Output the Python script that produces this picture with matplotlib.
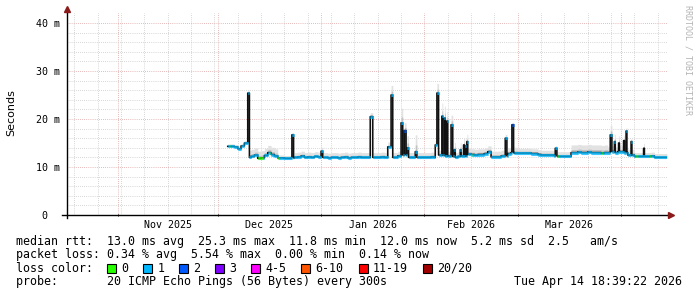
import numpy as np
import pandas as pd
import matplotlib
matplotlib.use("Agg")
import matplotlib.pyplot as plt
import matplotlib.dates as mdates
from matplotlib.patches import Rectangle

# median rtt per day in ms, starting 2025-12-04
first_day = "2025-12-04"
med_dec = [14.3, 14.3, 14.2, 13.8, 14.4, 15.0, 12.0, 12.2, 12.5, 11.8, 11.9, 12.4, 13.0, 12.6,
           12.3, 11.9, 11.9, 11.8, 11.8, 11.9, 12.0, 12.1, 12.3, 12.0, 12.1, 12.0, 12.2, 12.1]
med_jan = [12.0, 12.0, 11.9, 12.0, 12.0, 11.9, 12.0, 12.1, 11.9, 12.0, 12.0, 12.1, 12.0, 12.0,
           12.0, 12.0, 12.0, 12.0, 12.1, 12.0, 14.2, 12.0, 12.0, 12.3, 12.5, 12.5, 12.0, 12.0,
           12.0, 12.0, 12.0]
med_feb = [12.0, 12.0, 12.1, 12.0, 12.5, 12.5, 12.3, 12.3, 12.2, 12.0, 12.2, 12.3, 12.3, 12.7,
           12.6, 12.5, 12.6, 12.6, 12.8, 13.2, 12.1, 12.1, 12.1, 12.3, 12.3, 12.8, 13.0, 12.9]
med_mar = [12.9, 12.9, 12.9, 12.9, 12.8, 12.8, 12.6, 12.5, 12.5, 12.5, 12.5, 12.3, 12.2, 12.2,
           12.2, 12.2, 13.0, 13.0, 13.1, 13.0, 13.0, 13.1, 13.0, 13.0, 13.0, 12.9, 13.0, 13.0,
           13.2, 13.0, 13.2]
med_apr = [13.2, 13.0, 12.5, 12.5, 12.2, 12.2, 12.2, 12.2, 12.2, 12.3, 12.0, 12.0, 12.0, 12.0]
last_time = "2026-04-14 18:39"

# short excursions of the median (start, hours, ms, smoke above in ms)
spike_start = ["2025-12-10 00:00", "2025-12-23 06:00", "2026-01-01 00:00", "2026-01-15 18:00",
               "2026-01-22 00:00", "2026-01-25 00:00", "2026-01-26 00:00", "2026-01-26 18:00",
               "2026-01-29 06:00", "2026-02-04 06:00", "2026-02-04 18:00", "2026-02-06 06:00",
               "2026-02-07 00:00", "2026-02-07 18:00", "2026-02-09 00:00", "2026-02-10 00:00",
               "2026-02-11 18:00", "2026-02-12 18:00", "2026-02-13 06:00", "2026-02-13 18:00",
               "2026-02-25 06:00", "2026-02-27 06:00", "2026-03-12 06:00", "2026-03-28 18:00",
               "2026-03-30 00:00", "2026-03-31 06:00", "2026-04-01 18:00", "2026-04-02 12:00",
               "2026-04-04 00:00", "2026-04-07 18:00"]
spike_hours = [12, 12, 12, 18, 12, 12, 12, 12, 12, 12, 12, 6, 6, 6, 12, 6, 6, 6, 6, 6,
               12, 12, 12, 12, 6, 6, 6, 6, 6, 6]
spike_ms = [25.4, 16.7, 13.3, 20.5, 25.0, 19.2, 17.6, 14.0, 13.2, 14.6, 25.4, 20.6, 20.2, 19.6,
            18.8, 13.6, 13.6, 14.6, 14.4, 15.3, 16.0, 18.8, 13.9, 16.7, 15.3, 15.0, 15.5, 17.5,
            15.3, 13.9]
spike_smoke = [0.6, 0.5, 0.8, 0.8, 2.0, 3.0, 1.6, 2.5, 3.5, 1.0, 2.0, 2.7, 2.5, 2.0, 2.0, 1.5,
               1.5, 1.5, 1.5, 1.5, 0.8, 0.5, 0.5, 2.0, 1.5, 1.5, 1.0, 0.7, 0.7, 1.0]

# smoke spread above the median, by period
smoke_from = ["2025-12-04", "2025-12-10", "2025-12-19", "2025-12-24", "2026-01-16",
              "2026-02-14", "2026-03-01", "2026-03-17", "2026-03-28", "2026-04-05"]
smoke_spread = [0.5, 1.5, 0.6, 1.0, 1.0, 1.2, 1.0, 1.6, 1.2, 0.8]

# loss colour periods that differ from the usual "1" (start, hours, loss level index)
loss_start = ["2025-12-04 06:00", "2025-12-13 00:00", "2025-12-16 06:00", "2025-12-19 00:00",
              "2026-01-09 06:00", "2026-02-15 00:00", "2026-03-13 00:00", "2026-03-26 06:00",
              "2026-04-05 12:00", "2026-04-09 18:00", "2026-01-26 00:00", "2026-02-27 06:00"]
loss_hours = [12, 36, 12, 6, 6, 6, 6, 6, 12, 6, 12, 12]
loss_level = [0, 0, 0, 0, 0, 0, 0, 0, 0, 0, 2, 2]

loss_labels = ["0", "1", "2", "3", "4-5", "6-10", "11-19", "20/20"]
loss_colors = ["#26ff00", "#00b8ff", "#0059ff", "#7e00ff", "#ff00ff", "#ff5500", "#ff0000", "#a10000"]

y_ticks = [0, 10, 20, 30, 40]
y_labels = ["0  ", "10 m", "20 m", "30 m", "40 m"]
month_starts = ["2025-10-01", "2025-11-01", "2025-12-01", "2026-01-01", "2026-02-01",
                "2026-03-01", "2026-04-01", "2026-05-01"]

# ---- build 6 hour series
t0 = pd.Timestamp(first_day)
slots = pd.date_range(t0, "2026-04-14 18:00", freq="6h")
daily = np.array(med_dec + med_jan + med_feb + med_mar + med_apr)
med = daily[(slots - t0).days].astype(float)
idx = np.searchsorted(pd.to_datetime(smoke_from), slots, side="right") - 1
smoke = np.array(smoke_spread)[idx]
for s, h, v, sm in zip(spike_start, spike_hours, spike_ms, spike_smoke):
    a = pd.Timestamp(s)
    m = (slots >= a) & (slots < a + pd.Timedelta(hours=h))
    med[m] = v
    smoke[m] = sm
level = np.ones(len(slots), dtype=int)
for s, h, lv in zip(loss_start, loss_hours, loss_level):
    a = pd.Timestamp(s)
    level[(slots >= a) & (slots < a + pd.Timedelta(hours=h))] = lv

edges = mdates.date2num(list(slots) + [pd.Timestamp(last_time)])
med_e = np.append(med, med[-1])
smoke_e = np.append(smoke, smoke[-1])

# ---- figure
W, H = 697, 297
plt.rcParams['font.family'] = ['DejaVu Sans Mono']
fig = plt.figure(figsize=(W / 100, H / 100), dpi=100)
ax = fig.add_axes([67 / W, (H - 215) / H, 600 / W, 201.6 / H])

t_start = pd.Timestamp(last_time) - pd.Timedelta(days=180)
ms_starts = pd.to_datetime(month_starts)
ax.set_xticks(mdates.date2num(ms_starts))
ax.set_xticks(mdates.date2num(pd.date_range("2025-10-19", "2026-04-12", freq="7D")), minor=True)
ax.set_yticks(y_ticks)
ax.set_yticks(np.arange(0, 42, 2), minor=True)
ax.set_xlim(mdates.date2num(t_start), edges[-1])
ax.set_ylim(0, 42)
ax.set_xticklabels([])
ax.set_yticklabels(y_labels, fontsize=7.2)
ax.tick_params(axis='y', which='both', length=0, pad=5)
ax.tick_params(axis='x', which='major', length=2, direction='inout', width=0.7)
ax.tick_params(axis='x', which='minor', length=0)
dots = (0, (0.72, 1.44))
ax.grid(which='minor', color='#c8c8c8', linestyle=dots, linewidth=0.7)
ax.grid(which='major', color='#e0a0a0', linestyle=dots, linewidth=0.7)
ax.set_axisbelow(True)
for sp in ax.spines.values():
    sp.set_visible(False)

# smoke
ax.fill_between(edges, med_e - 0.2, med_e + smoke_e, step='post', color='#e2e2e2', lw=0, zorder=2)
ax.fill_between(edges, med_e, med_e + 0.4 * smoke_e, step='post', color='#c2c2c2', lw=0, zorder=2)
# median: black connectors and loss coloured segments
ax.step(edges, med_e, where='post', color='#111111', lw=1.15, zorder=3)
ax.hlines(med, edges[:-1], edges[1:], colors=[loss_colors[c] for c in level],
          linewidth=2.2, capstyle='butt', zorder=4)

# axes lines with arrows
ax.plot([0, 0], [-0.015, 1.015], color='black', lw=1, transform=ax.transAxes, clip_on=False, zorder=5)
ax.plot([-0.008, 1.005], [0, 0], color='black', lw=1, transform=ax.transAxes, clip_on=False, zorder=5)
ax.plot([0], [1.02], marker='^', ms=4.5, color='#8b1a1a', transform=ax.transAxes, clip_on=False, zorder=6)
ax.plot([1.007], [0], marker='>', ms=4.5, color='#8b1a1a', transform=ax.transAxes, clip_on=False, zorder=6)

# month labels centred on each month
xt = ax.get_xaxis_transform()
for a, b in zip(ms_starts[:-1], ms_starts[1:]):
    mid = a + (b - a) / 2
    xm = mdates.date2num(mid)
    if mdates.date2num(t_start) + 10 < xm < edges[-1] - 10:
        ax.text(xm, -0.05, mid.strftime("%b %Y"), transform=xt, ha='center', va='center', fontsize=7.2)

fig.text(11 / W, 1 - 113 / H, "Seconds", rotation=90, ha='center', va='center',
         fontsize=8, family='DejaVu Sans')
fig.text(688 / W, 1 - 5 / H, "RRDTOOL / TOBI OETIKER", rotation=270, ha='center', va='top',
         fontsize=6, color='#b4b4b4')

# legend rows
fs = 8.4
cw = 0.6021 * fs * 100 / 72
x0 = 16
rows_y = [241, 254.7, 268.3, 282]
fig.text(x0 / W, 1 - rows_y[0] / H,
         "median rtt:  13.0 ms avg  25.3 ms max  11.8 ms min  12.0 ms now  5.2 ms sd  2.5   am/s",
         fontsize=fs, va='center')
fig.text(x0 / W, 1 - rows_y[1] / H,
         "packet loss: 0.34 % avg  5.54 % max  0.00 % min  0.14 % now", fontsize=fs, va='center')
fig.text(x0 / W, 1 - rows_y[2] / H, "loss color:", fontsize=fs, va='center')
bx = x0 + 13 * cw
for lab, col in zip(loss_labels, loss_colors):
    fig.patches.append(Rectangle((bx / W, 1 - (rows_y[2] + 4.5) / H), 9 / W, 9 / H,
                                 transform=fig.transFigure, facecolor=col, edgecolor='black', lw=0.8))
    fig.text((bx + 14) / W, 1 - rows_y[2] / H, lab, fontsize=fs, va='center')
    bx = bx + 14 + len(lab) * cw + 15
fig.text(x0 / W, 1 - rows_y[3] / H, "probe:       20 ICMP Echo Pings (56 Bytes) every 300s",
         fontsize=fs, va='center')
fig.text(682 / W, 1 - rows_y[3] / H, "Tue Apr 14 18:39:22 2026", fontsize=fs, va='center', ha='right')

fig.savefig("out.png", dpi=100, facecolor='white')
